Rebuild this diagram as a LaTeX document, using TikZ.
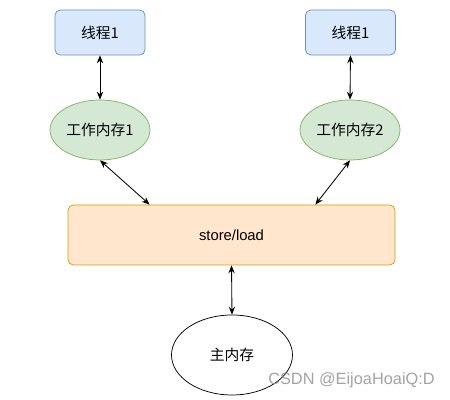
\documentclass[tikz,border=0pt]{standalone}
\usepackage{fontspec}
\setmainfont{Liberation Sans}
\newfontfamily\cjk{Noto Sans CJK SC}
\usetikzlibrary{shapes.geometric,arrows.meta}
\definecolor{threadfill}{HTML}{DAE8FC}
\definecolor{threaddraw}{HTML}{6C8EBF}
\definecolor{workfill}{HTML}{D5E8D4}
\definecolor{workdraw}{HTML}{82B366}
\definecolor{busfill}{HTML}{FFE6CC}
\definecolor{busdraw}{HTML}{D79B00}
\tikzset{
  threadbox/.style={draw=threaddraw,fill=threadfill,rounded corners=5pt,minimum width=3cm,minimum height=1.5cm,font=\cjk\fontsize{14}{17}\selectfont},
  workmem/.style={ellipse,draw=workdraw,fill=workfill,minimum width=3.333cm,minimum height=2cm,inner sep=0pt,font=\cjk\fontsize{14}{17}\selectfont},
  link/.style={line width=0.8pt,{Stealth[length=7.5pt,width=6pt]}-{Stealth[length=7.5pt,width=6pt]}}
}
\begin{document}
\begin{tikzpicture}[line width=0.7pt]
\useasboundingbox (0,0) rectangle (15,-13.333);
% threads
\node[threadbox] (t1) at (3.333,-1.083) {线程1};
\node[threadbox] (t2) at (11.683,-1.083) {线程1};
% working memory
\node[workmem] (w1) at (3.333,-4.333) {工作内存1};
\node[workmem] (w2) at (11.667,-4.333) {工作内存2};
% store/load
\node[draw=busdraw,fill=busfill,rounded corners=5pt,minimum width=10.9cm,minimum height=2cm,font=\fontsize{14}{17}\selectfont] (sl) at (7.717,-7.833) {store/load};
% main memory
\node[ellipse,draw=black,fill=white,minimum width=4.033cm,minimum height=2.667cm,inner sep=0pt,font=\cjk\fontsize{14}{17}\selectfont] (mm) at (7.733,-11.833) {主内存};
\draw[link] (t1.south) -- (w1.north);
\draw[link] (t2.south) -- (w2.north);
\draw[link] (w1.south) -- ([xshift=2.733cm]sl.north west);
\draw[link] (w2.south) -- ([xshift=-2.667cm]sl.north east);
\draw[link] (sl.south) -- (mm.north);
% watermark
\node[text=black!45,opacity=0.8,font=\fontsize{15.5}{18}\selectfont] (wm) at (11.717,-12.667) {CSDN @EijoaHoaiQ:D};
\end{tikzpicture}
\end{document}
